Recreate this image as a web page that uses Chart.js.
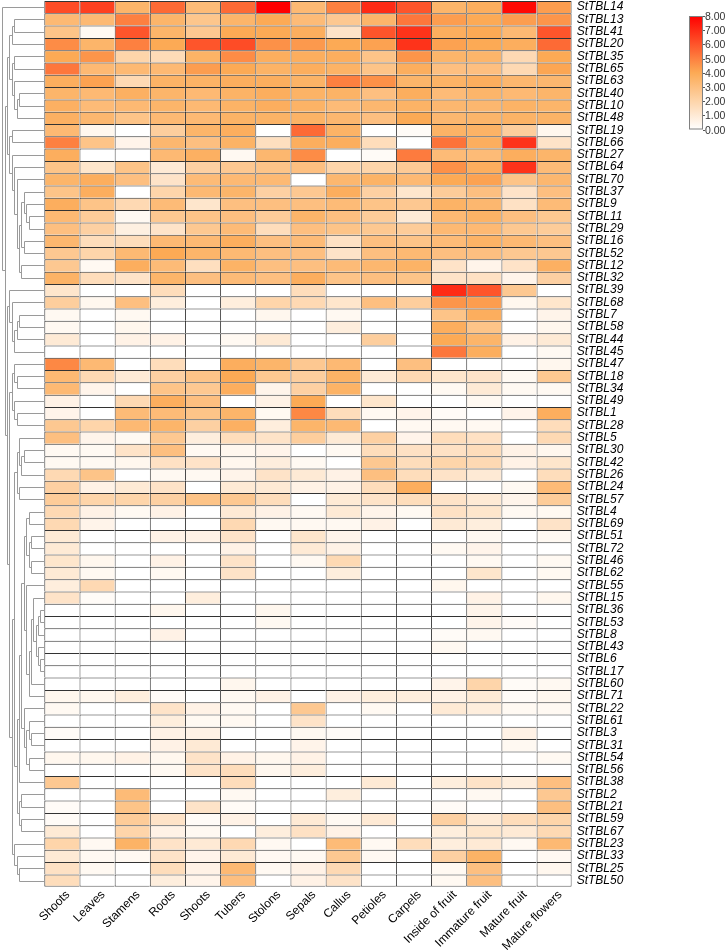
<!DOCTYPE html>
<html lang="en">
<head>
    <meta charset="UTF-8">
    <script src="https://cdn.jsdelivr.net/npm/chart.js"></script>
    <title>StTBL expression heatmap</title>
    <style>
        body { margin: 0; background: #fff; }
        canvas { display: block; }
    </style>
</head>
<body>
    <canvas id="chart" width="726" height="950"></canvas>

    <script>
        const rowLabels = ['StTBL14', 'StTBL13', 'StTBL41', 'StTBL20', 'StTBL35', 'StTBL65', 'StTBL63', 'StTBL40', 'StTBL10', 'StTBL48',
            'StTBL19', 'StTBL66', 'StTBL27', 'StTBL64', 'StTBL70', 'StTBL37', 'StTBL9', 'StTBL11', 'StTBL29', 'StTBL16',
            'StTBL52', 'StTBL12', 'StTBL32', 'StTBL39', 'StTBL68', 'StTBL7', 'StTBL58', 'StTBL44', 'StTBL45', 'StTBL47',
            'StTBL18', 'StTBL34', 'StTBL49', 'StTBL1', 'StTBL28', 'StTBL5', 'StTBL30', 'StTBL42', 'StTBL26', 'StTBL24',
            'StTBL57', 'StTBL4', 'StTBL69', 'StTBL51', 'StTBL72', 'StTBL46', 'StTBL62', 'StTBL55', 'StTBL15', 'StTBL36',
            'StTBL53', 'StTBL8', 'StTBL43', 'StTBL6', 'StTBL17', 'StTBL60', 'StTBL71', 'StTBL22', 'StTBL61', 'StTBL3',
            'StTBL31', 'StTBL54', 'StTBL56', 'StTBL38', 'StTBL2', 'StTBL21', 'StTBL59', 'StTBL67', 'StTBL23', 'StTBL33',
            'StTBL25', 'StTBL50'];

        const colLabels = ['Shoots', 'Leaves', 'Stamens', 'Roots', 'Shoots', 'Tubers', 'Stolons', 'Sepals', 'Callus',
            'Petioles', 'Carpels', 'Inside of fruit', 'Immature fruit', 'Mature fruit', 'Mature flowers'];

        // one array per tissue, values in row order (0 - 8 scale)
        const shoots1 = [6.2, 3.3, 2.8, 4.7, 4, 5.2, 3.8, 3.5, 3.7, 3.7, 3.3, 5, 3.8, 2.8, 3.5, 2.8, 3.8, 3.3, 3, 3.4,
            2.6, 2.6, 3.6, 1.2, 2.3, 0.3, 0.3, 1, 0, 4.8, 3.3, 3.3, 0.6, 0.5, 2.6, 3, 0.3, 0.3, 1.8, 2.2,
            2.4, 1.8, 1.8, 1, 1, 1.2, 1, 0.8, 1.3, 0, 0, 0, 0, 0, 0, 0, 0.4, 0.3, 0, 0.2,
            0, 0.4, 0, 2.6, 0, 0.2, 0.2, 1, 2, 1, 1.4, 1.6];
        const leaves = [6.5, 3.3, 0.3, 3.5, 4.5, 3.3, 4.2, 3.3, 3.2, 3.4, 0.4, 2.8, 0, 1.2, 3.8, 3.8, 2.8, 2.4, 2.2, 1.6,
            2, 0.3, 1.6, 0, 0.4, 0, 0, 0, 0, 3.3, 1.8, 0.5, 0, 0, 2, 0.5, 0.3, 0.3, 2.8, 0.6,
            2, 0.6, 0.5, 0, 0, 0.4, 0.3, 1.8, 0.2, 0, 0, 0, 0, 0, 0, 0, 0.4, 0, 0, 0,
            0, 0.4, 0, 0, 0, 0, 0, 0, 0.3, 0.3, 0.3, 0];
        const stamens = [3.5, 5, 6, 5, 2, 3.3, 1.8, 3.7, 3.3, 2.8, 0, 0.5, 0, 2.8, 3, 0, 1.8, 0.3, 0.7, 1.6,
            3.3, 3.8, 1.3, 0, 3, 0.3, 0.4, 0.6, 0, 0, 1, 0, 1.8, 3.2, 3.3, 0.3, 1.3, 0.4, 0, 1,
            2, 0.3, 0, 0, 0, 0, 0, 0, 0, 0, 0, 0, 0, 0, 0, 0, 0.8, 0, 0, 0,
            0, 0.6, 0, 0, 3.2, 2.8, 2.4, 2, 3.6, 0.3, 0, 0];
        const roots = [5.5, 3.5, 3.5, 4, 1.7, 3.3, 3.6, 3.5, 3.5, 3.3, 2.3, 3.4, 3.3, 1, 1.3, 2, 3.2, 2.6, 1.3, 3.3,
            4, 3.2, 3.5, 1.6, 0.8, 0, 0, 0.6, 0, 1.6, 2.2, 2.8, 3.8, 3.2, 3.5, 2.6, 3, 1.4, 0.3, 1.3,
            2.2, 0.6, 0, 0.6, 0, 0.6, 0.3, 0, 0, 0.4, 0, 0.6, 0, 0, 0, 0, 0.2, 1.3, 0.8, 0.6,
            0.6, 0.4, 0.3, 0, 0, 0, 1.3, 0.6, 1.3, 1.3, 1.6, 0.8];
        const shoots2 = [3.2, 2.7, 2.6, 6, 3.6, 4.3, 3.6, 3.3, 3.3, 3.3, 3.5, 3, 3.7, 2.2, 3.2, 3.3, 1.2, 2.8, 2.6, 3.3,
            3.5, 1.5, 3, 0, 0, 0, 0, 0, 0, 0, 2.8, 2.6, 3, 2.8, 2.2, 0.8, 0.3, 1.3, 0.3, 0,
            2.8, 0, 0, 0.6, 0, 0, 0, 0, 0.8, 0, 0, 0, 0, 0, 0, 0, 0, 0.6, 0.3, 0.6,
            1, 1.3, 1.3, 0, 0, 1.3, 0.2, 0.3, 1, 0.5, 0.6, 0.5];
        const tubers = [5.5, 3.5, 4, 6.2, 4.7, 4, 3.8, 3.6, 3.6, 3.6, 3.8, 3.6, 0.3, 2.6, 3.3, 3.5, 3, 3, 3.2, 3.8,
            3.3, 3.6, 3.2, 0, 0.8, 0, 0, 0.3, 0, 3.8, 4, 3.8, 0, 3.5, 3.7, 1.6, 0.4, 0.4, 0.5, 1,
            2.6, 1, 1.8, 1.3, 0.6, 1.3, 1.3, 0, 0, 0, 0, 0, 0, 0, 0, 0.4, 0.3, 0.3, 0.3, 0,
            0, 0.6, 1.6, 1.6, 0.3, 0.2, 0.6, 0, 1.8, 1, 3.3, 3];
        const stolons = [8, 4, 4, 4.6, 3.8, 3.6, 3.8, 3.8, 3.8, 3.6, 0, 1.5, 3.4, 2.8, 3.3, 2.2, 3, 2.4, 1.6, 3,
            3, 3, 3, 0, 2, 0.4, 0, 1, 0, 3.5, 2.6, 0.5, 0.6, 0.3, 0.8, 1.3, 0.5, 0.8, 1.3, 1,
            1.6, 0.6, 0.3, 0, 0, 0, 0, 0, 0, 0.4, 0.3, 0, 0, 0, 0, 0, 0.6, 0, 0, 0,
            0, 0.4, 0.4, 0, 0, 0, 0, 0.8, 0.3, 0.3, 0.3, 0];
        const sepals = [3.3, 3.2, 3.8, 4.4, 3.8, 3.8, 3.6, 3.6, 3.6, 3.6, 5.5, 3.8, 4.7, 3, 0, 2.6, 3, 3.5, 3, 3.2,
            3, 3, 3.8, 1.6, 1.8, 0, 0, 0, 0, 2.6, 2.3, 2.2, 4, 4.8, 3.5, 2.3, 0, 0.3, 1, 0.6,
            0, 0.3, 0.3, 1.2, 1, 0.3, 0, 0, 0, 0, 0, 0, 0, 0, 0, 0, 0, 2.6, 1.3, 0.3,
            0.5, 0.6, 0.8, 0, 0, 0, 1, 1.4, 0, 0.3, 0.6, 0.6];
        const callus = [5, 2.6, 1.3, 4, 3.8, 3.6, 5, 3.6, 3.2, 3.4, 3.6, 3.8, 0, 2, 3.4, 3.8, 3.2, 3, 2.8, 1.4,
            1.3, 3.2, 2.8, 0, 1.2, 0.3, 0.8, 0, 0, 3.3, 3.6, 3.6, 0, 1.6, 3.3, 1, 0.3, 0, 0.6, 0.6,
            1, 1, 0.3, 0.5, 0.6, 1.8, 0.8, 0, 0, 0, 0, 0, 0, 0, 0, 0, 0.6, 0, 0, 0.2,
            0, 0, 0, 0, 0.8, 0, 0.3, 0.6, 3.2, 2.6, 1.8, 1.3];
        const petioles = [7, 3.5, 6, 4.2, 2.8, 2.8, 4.6, 3, 3.4, 3, 0, 1.6, 0.2, 2, 3.6, 2.2, 2.8, 2.4, 2.6, 3,
            3, 3.4, 3, 0, 3, 0, 0, 2.3, 0, 0, 1, 0, 1.2, 0.3, 0, 2.2, 1.6, 2.6, 3, 1.6,
            1.3, 0.5, 0.6, 0, 0, 0, 0, 0, 0, 0, 0, 0, 0, 0, 0, 0, 0.8, 0.3, 0, 0,
            0, 0, 0, 1, 0, 0, 1, 0, 0.3, 0.3, 0, 0];
        const carpels = [6, 5.2, 6.8, 6.8, 4.5, 3.8, 3.5, 3.8, 3.6, 4, 0.2, 0, 5.1, 2.5, 3.3, 1.2, 2.6, 1, 2.4, 2.8,
            3.3, 3.6, 2.8, 0, 2.3, 0, 0, 0, 0, 3, 1.8, 0, 0, 0.5, 0.3, 0.5, 1.4, 1.6, 1.6, 3.8,
            1.6, 0.3, 0, 0, 0, 0, 0, 0, 0, 0, 0, 0, 0, 0, 0, 0, 0.8, 0, 0, 0,
            0, 0, 0, 0, 0, 0, 0, 0, 1.6, 0, 0, 0];
        const insideFruit = [3.5, 4.3, 3.8, 4.2, 3.5, 3, 3.6, 3.2, 3.4, 3.4, 3.6, 5.3, 3.2, 4.6, 4, 2.4, 3.6, 3.3, 3.3, 3.2,
            3, 1.3, 1.3, 7, 4.5, 2.8, 3.8, 4, 5.2, 0, 1.2, 0.3, 0, 0.2, 0.3, 1.6, 1.4, 2, 1.3, 0,
            1.3, 1.4, 1, 0, 0.3, 0, 0, 0.4, 0, 0, 0, 0.2, 0.3, 0, 0, 0.5, 0.6, 1, 0, 0,
            0, 0, 0, 0.8, 0, 0.2, 2.2, 0.8, 0.8, 2.2, 0.3, 0.3];
        const immatureFruit = [3.8, 4, 4, 4, 3.5, 3, 3.8, 3.5, 3.4, 3.5, 3.6, 3.8, 3.2, 3.8, 4.2, 3, 3.4, 3.6, 3.3, 3.6,
            3, 0.5, 1.4, 6, 4.3, 3.8, 2.8, 3.5, 3.8, 0, 1.3, 1, 0.3, 0, 0.3, 1.4, 1.6, 1.8, 1, 0,
            1, 1.2, 0.8, 0.3, 0.5, 0.3, 1.2, 0, 0.6, 0.5, 0.5, 0.3, 0, 0, 0, 2, 1, 0.8, 0, 0,
            0, 0, 0, 1.3, 0.3, 0, 1, 1.2, 1, 3.6, 3, 3];
        const matureFruit = [7.8, 4.3, 3.3, 3.8, 1.8, 1.8, 3.4, 3.3, 3.6, 3.6, 2.3, 6.8, 3.8, 6.8, 2.8, 1.3, 1.4, 3, 2.6, 3.3,
            2.6, 1.3, 0.5, 2.6, 0.4, 0, 0, 0.6, 0, 0, 0.3, 0.3, 0, 0.5, 0, 0, 0.6, 0.6, 0, 0.3,
            0.5, 0.3, 0, 0, 0, 0, 0, 0, 0, 0, 0.2, 0, 0, 0, 0, 0.2, 0.2, 0.3, 0, 0.6,
            0.3, 0, 0, 0.8, 0, 0, 1.6, 1, 0.3, 0, 0, 0];
        const matureFlowers = [4.3, 4.5, 6, 5.5, 4, 4.1, 3.4, 3.5, 3.5, 3.6, 0.4, 1.3, 3.5, 3.2, 3.4, 3, 3.2, 2.6, 2.4, 3,
            2.6, 3.7, 2.2, 0, 1.2, 0.5, 0.4, 1, 0.3, 0.4, 2.6, 0.3, 0, 3.8, 1.6, 1.8, 0.4, 1.2, 1.6, 3.2,
            2.4, 0.3, 1.3, 0.3, 0, 0.3, 0.3, 0, 0.4, 0, 0, 0, 0, 0, 0, 0.3, 0.4, 0.3, 0, 0,
            0, 0.3, 0, 3, 2.6, 3, 2, 1.8, 3.3, 0.3, 0.4, 0];

        const columns = [shoots1, leaves, stamens, roots, shoots2, tubers, stolons, sepals, callus,
            petioles, carpels, insideFruit, immatureFruit, matureFruit, matureFlowers];

        const legendTicks = [0, 1, 2, 3, 4, 5, 6, 7, 8];

        // white -> orange -> red
        const colorStops = [[0, [255, 255, 255]], [4, [252, 170, 85]], [8, [255, 0, 0]]];
        function heatColor(v) {
            v = Math.max(0, Math.min(8, v));
            for (let i = 1; i < colorStops.length; i++) {
                const [v0, c0] = colorStops[i - 1];
                const [v1, c1] = colorStops[i];
                if (v <= v1) {
                    const t = (v - v0) / (v1 - v0);
                    const c = c0.map((a, k) => Math.round(a + (c1[k] - a) * t));
                    return 'rgb(' + c.join(',') + ')';
                }
            }
            return 'rgb(255,0,0)';
        }

        // row clustering, only neighbouring clusters may merge so the leaf order stays as given
        function buildTree() {
            const vecs = rowLabels.map((_, r) => columns.map(col => col[r]));
            const d = (a, b) => Math.sqrt(a.reduce((s, v, k) => s + (v - b[k]) ** 2, 0));
            let clusters = vecs.map((_, i) => ({ members: [i], node: { pos: i } }));
            const linkDist = (A, B) => {
                let s = 0;
                A.members.forEach(i => B.members.forEach(j => { s += d(vecs[i], vecs[j]); }));
                return s / (A.members.length * B.members.length);
            };
            while (clusters.length > 1) {
                let best = 0, bestD = Infinity;
                for (let i = 0; i < clusters.length - 1; i++) {
                    const dd = linkDist(clusters[i], clusters[i + 1]);
                    if (dd < bestD) { bestD = dd; best = i; }
                }
                const A = clusters[best], B = clusters[best + 1];
                const node = { pos: (A.node.pos + B.node.pos) / 2, a: A.node, b: B.node };
                clusters.splice(best, 2, { members: A.members.concat(B.members), node: node });
            }
            return clusters[0].node;
        }
        const tree = buildTree();

        // the tree is drawn by depth from the root, leaves run to the grid
        function setDepth(n, k) {
            n.depth = k;
            if (!n.a) return k;
            return Math.max(setDepth(n.a, k + 1), setDepth(n.b, k + 1));
        }
        const maxDepth = setDepth(tree, 0);
        const dendroWidth = 1.22; // in column units, left of the grid
        const levelStep = (dendroWidth - 0.06) / maxDepth;

        const dendroPlugin = {
            id: 'dendro',
            afterDatasetsDraw(chart) {
                const xs = chart.scales.x, ys = chart.scales.y;
                const ctx = chart.ctx;
                const px = n => Math.round(xs.getPixelForValue(-dendroWidth + 0.02 + n.depth * levelStep)) + 0.5;
                const py = p => Math.round(ys.getPixelForValue(p)) + 0.5;
                ctx.save();
                ctx.strokeStyle = '#9a9a9a';
                ctx.lineWidth = 1;
                ctx.beginPath();
                function walk(n) {
                    if (!n.a) return;
                    const x = px(n);
                    [n.a, n.b].forEach(c => {
                        ctx.moveTo(x, py(c.pos));
                        ctx.lineTo(c.a ? px(c) : xs.getPixelForValue(0), py(c.pos));
                        walk(c);
                    });
                    ctx.moveTo(x, py(n.a.pos));
                    ctx.lineTo(x, py(n.b.pos));
                }
                walk(tree);
                ctx.stroke();
                ctx.restore();
            }
        };

        const colorbarPlugin = {
            id: 'colorbar',
            afterDraw(chart) {
                const ctx = chart.ctx;
                const x0 = 689, w = 14, top = 16, bottom = 129.5;
                const maxV = legendTicks[legendTicks.length - 1];
                const grad = ctx.createLinearGradient(0, bottom, 0, top);
                for (let v = 0; v <= maxV; v += 0.5) grad.addColorStop(v / maxV, heatColor(v));
                ctx.save();
                ctx.fillStyle = grad;
                ctx.fillRect(x0, top, w, bottom - top);
                ctx.strokeStyle = '#808080';
                ctx.lineWidth = 1;
                ctx.strokeRect(x0 + 0.5, top + 0.5, w - 1, bottom - top - 1);
                ctx.fillStyle = '#333';
                ctx.font = '10.5px Arial, "Liberation Sans", sans-serif';
                ctx.textBaseline = 'middle';
                ctx.textAlign = 'left';
                ctx.beginPath();
                legendTicks.forEach(v => {
                    const y = Math.round(bottom - (bottom - top) * v / maxV) + 0.5;
                    ctx.moveTo(x0 + w, y);
                    ctx.lineTo(x0 + w + 2, y);
                    ctx.fillText(v.toFixed(2), x0 + w + 2, y + 0.5);
                });
                ctx.strokeStyle = '#555';
                ctx.stroke();
                ctx.restore();
            }
        };

        const heatChart = new Chart(document.getElementById('chart'), {
            type: 'bar',
            data: {
                labels: rowLabels,
                datasets: columns.map((vals, c) => ({
                    label: colLabels[c],
                    data: vals.map(() => [c, c + 1]),
                    backgroundColor: vals.map(heatColor),
                    borderColor: '#333',
                    borderWidth: ctx => ({
                        top: 1,
                        left: 1,
                        right: c === colLabels.length - 1 ? 1 : 0,
                        bottom: ctx.dataIndex === rowLabels.length - 1 ? 1 : 0
                    }),
                    borderSkipped: false,
                    grouped: false,
                    inflateAmount: 0,
                    barPercentage: 1,
                    categoryPercentage: 1
                }))
            },
            options: {
                indexAxis: 'y',
                responsive: false,
                animation: false,
                layout: { padding: { top: 1, left: 0, right: 0, bottom: 0 } },
                plugins: {
                    legend: { display: false },
                    tooltip: { enabled: false }
                },
                scales: {
                    x: {
                        type: 'linear',
                        min: -1.26,
                        max: 15,
                        grid: { display: false, drawTicks: false },
                        border: { display: false },
                        afterBuildTicks: scale => {
                            scale.ticks = colLabels.map((_, i) => ({ value: i + 0.5 }));
                        },
                        afterFit: scale => {
                            scale.height = 63.3;
                            scale.paddingLeft = 0;
                            scale.paddingRight = 0;
                        },
                        ticks: {
                            autoSkip: false,
                            minRotation: 45,
                            maxRotation: 45,
                            padding: 1,
                            labelOffset: 6,
                            color: '#000',
                            font: { family: 'Arial, "Liberation Sans", sans-serif', size: 12 },
                            callback: (value, index) => colLabels[index]
                        }
                    },
                    y: {
                        type: 'category',
                        position: 'right',
                        offset: true,
                        grid: { display: false, drawTicks: false },
                        border: { display: false },
                        afterFit: scale => {
                            scale.width = 154.3;
                            scale.paddingTop = 0;
                            scale.paddingBottom = 0;
                        },
                        ticks: {
                            autoSkip: false,
                            padding: 5,
                            color: '#000',
                            font: { family: 'Arial, "Liberation Sans", sans-serif', size: 12, style: 'italic' }
                        }
                    }
                }
            },
            plugins: [dendroPlugin, colorbarPlugin]
        });
    </script>
</body>
</html>
